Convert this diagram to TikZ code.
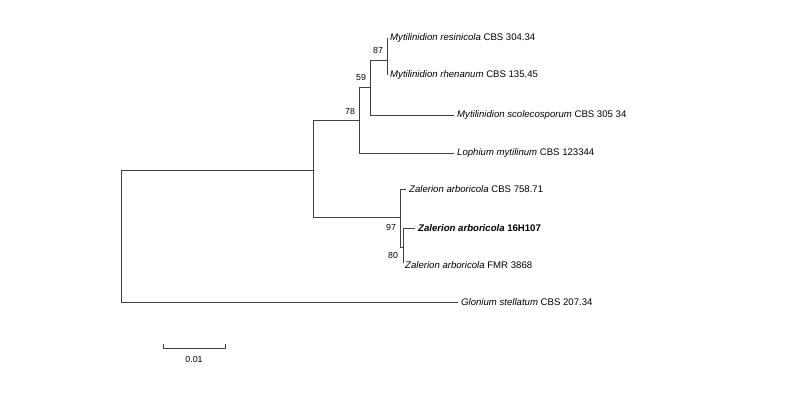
\documentclass[tikz,border=0pt]{standalone}
\usepackage{fontspec}
\setmainfont{Liberation Sans}
\begin{document}
\begin{tikzpicture}[x=1pt,y=-1pt,
  br/.style={draw=black!75,line width=0.7pt},
  tip/.style={draw=black!75,line width=0.7pt,shorten >=3pt},
  leaf/.style={anchor=west,inner sep=0pt,font=\fontsize{9.6}{11}\selectfont},
  bs/.style={inner sep=0pt,font=\fontsize{8.8}{10}\selectfont}]
\useasboundingbox (0,0) rectangle (800,400);
\coordinate (r0) at (121,170);
\coordinate (r1) at (121,302);
\coordinate (a) at (313,170);
\coordinate (a1) at (313,120);
\coordinate (a2) at (313,217);
\coordinate (b) at (359,120);
\coordinate (b1) at (359,87);
\coordinate (b2) at (359,153);
\coordinate (c) at (370,87);
\coordinate (c1) at (370,60);
\coordinate (c2) at (370,115);
\coordinate (d) at (387,60);
\coordinate (d1) at (387,38);
\coordinate (d2) at (387,75);
\coordinate (e) at (400,217);
\coordinate (e1) at (400,189);
\coordinate (e2) at (400,247);
\coordinate (f) at (403,247);
\coordinate (f1) at (403,228);
\coordinate (f2) at (403,263);
\node[leaf] (l1) at (390,38) {\textit{Mytilinidion resinicola} CBS 304.34};
\node[leaf] (l2) at (390,75) {\textit{Mytilinidion rhenanum} CBS 135.45};
\node[leaf] (l3) at (457,115) {\textit{Mytilinidion scolecosporum} CBS 305 34};
\node[leaf] (l4) at (457,153) {\textit{Lophium mytilinum} CBS 123344};
\node[leaf] (l5) at (409,189) {\textit{Zalerion arboricola} CBS 758.71};
\node[leaf] (l6) at (418,228) {\textbf{\textit{Zalerion arboricola} 16H107}};
\node[leaf] (l7) at (405,265) {\textit{Zalerion arboricola} FMR 3868};
\node[leaf] (l8) at (461,302) {\textit{Glonium stellatum} CBS 207.34};
\path[br] (r0) -- (r1) (r0) -- (a) (a1) -- (a2);
\path[tip] (r1) -- (l8.west);
\path[br] (a1) -- (b) (b1) -- (b2) (b1) -- (c) (c1) -- (c2);
\path[tip] (b2) -- (l4.west);
\path[tip] (c2) -- (l3.west);
\path[br] (c1) -- (d) (d1) -- (d2);
\path[br] (a2) -- (e) (e1) -- (e2) (e2) -- (f) (f1) -- (f2);
\path[tip] (e1) -- (l5.west);
\path[tip] (f1) -- (l6.west);
\node[bs] (n87) at (378,50) {87};
\node[bs] (n59) at (361,77) {59};
\node[bs] (n78) at (350,111) {78};
\node[bs] (n97) at (391,227) {97};
\node[bs] (n80) at (393,255) {80};
\coordinate (s0) at (163,348);
\coordinate (s1) at (225,348);
\path[br] (s0) ++(0,-4) -- (s0) -- (s1) -- ++(0,-4);
\node[bs] (sl) at (194,359) {0.01};
\end{tikzpicture}
\end{document}
